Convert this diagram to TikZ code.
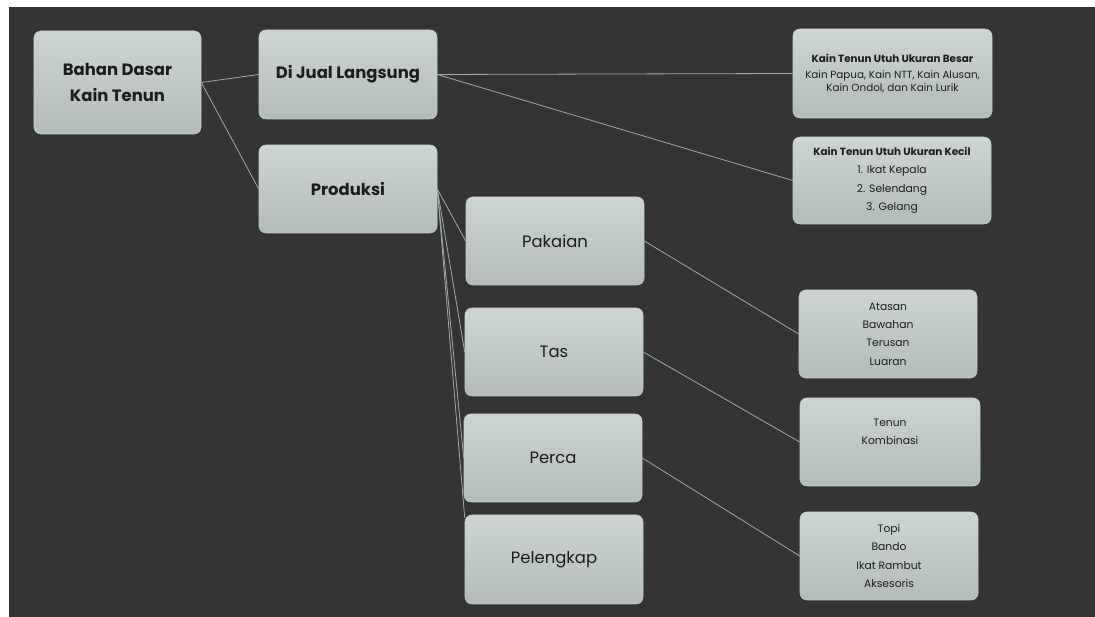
\documentclass[tikz,border=0pt]{standalone}
\usepackage{fontspec}
\setmainfont{Poppins}
\definecolor{bgcol}{HTML}{343434}
\definecolor{boxlight}{HTML}{CDD5D0}
\definecolor{boxdark}{HTML}{B3BCB7}
\definecolor{boxedge}{HTML}{C3CBC6}
\definecolor{linkcol}{HTML}{A3ABA7}
\definecolor{textcol}{HTML}{1C1C1C}
\tikzset{
  card/.style={rectangle,rounded corners=7bp,draw=boxedge,line width=0.6bp,
    top color=boxlight,bottom color=boxdark,text=textcol,align=center,
    inner sep=0bp,minimum width=178bp,minimum height=88bp},
  headcard/.style={card,font=\fontsize{16.5}{26}\selectfont\bfseries},
  midcard/.style={card,font=\fontsize{16.5}{20}\selectfont},
  listcard/.style={card,font=\fontsize{10.8}{18.5}\selectfont},
  link/.style={draw=linkcol,line width=0.8bp}
}
\begin{document}
\begin{tikzpicture}[x=1bp,y=1bp,line join=bevel]
  \useasboundingbox (0,0) rectangle (1095,617);
  \fill[bgcol] (9,0) rectangle (1095,610);
%%
  % Node: Bahan Dasar Kain Tenun
  \node[headcard,minimum width=167bp,minimum height=103bp] (bahan) at (117.5,534.5) {Bahan Dasar\\Kain Tenun};
  % Node: Di Jual Langsung
  \node[headcard,minimum height=89bp] (jual) at (348,542.5) {Di Jual Langsung};
  % Node: Produksi
  \node[headcard] (produksi) at (348,428) {Produksi};
  % Node: Pakaian
  \node[midcard] (pakaian) at (555,376) {Pakaian};
  % Node: Tas
  \node[midcard] (tas) at (554,265) {Tas};
  % Node: Perca
  \node[midcard] (perca) at (553,159) {Perca};
  % Node: Pelengkap
  \node[midcard,minimum height=89bp] (pelengkap) at (554,57.5) {Pelengkap};
  % Node: ukuran besar
  \node[listcard,minimum width=199bp,minimum height=89bp,font=\fontsize{10.4}{12.5}\selectfont] (besar) at (892.5,543.5)
    {{\bfseries Kain Tenun Utuh Ukuran Besar}\\[4bp]Kain Papua, Kain NTT, Kain Alusan,\\Kain Ondol, dan Kain Lurik};
  % Node: ukuran kecil
  \node[listcard,minimum width=198bp,minimum height=87bp] (kecil) at (892,436.5)
    {{\bfseries\fontsize{10.4}{18}\selectfont Kain Tenun Utuh Ukuran Kecil}\\1. Ikat Kepala\\2. Selendang\\3. Gelang};
  % Node: isi pakaian
  \node[listcard] (atasan) at (888,283) {Atasan\\Bawahan\\Terusan\\Luaran};
  % Node: isi tas
  \node[listcard,minimum width=180bp] (tenun) at (890,175) {Tenun\\Kombinasi\\[2bp]~};
  % Node: isi perca
  \node[listcard] (topi) at (889,61) {Topi\\Bando\\Ikat Rambut\\Aksesoris};
%
  % Edge: Bahan Dasar -> Di Jual Langsung
  \draw[link] (bahan.east) -- (jual.west);
  % Edge: Bahan Dasar -> Produksi
  \draw[link] (bahan.east) -- (produksi.west);
  % Edge: Di Jual Langsung -> ukuran besar
  \draw[link] (jual.east) -- (besar.west);
  % Edge: Di Jual Langsung -> ukuran kecil
  \draw[link] (jual.east) -- (kecil.west);
  % Edge: Produksi -> Pakaian, Tas, Perca, Pelengkap
  \draw[link] (produksi.east) -- (pakaian.west);
  \draw[link] (produksi.east) -- (tas.west);
  \draw[link] (produksi.east) -- (perca.west);
  \draw[link] (produksi.east) -- (pelengkap.155);
  % Edge: Pakaian -> isi pakaian
  \draw[link] (pakaian.east) -- (atasan.west);
  % Edge: Tas -> isi tas
  \draw[link] (tas.east) -- (tenun.west);
  % Edge: Perca -> isi perca
  \draw[link] (perca.east) -- (topi.west);
%
\end{tikzpicture}
\end{document}
